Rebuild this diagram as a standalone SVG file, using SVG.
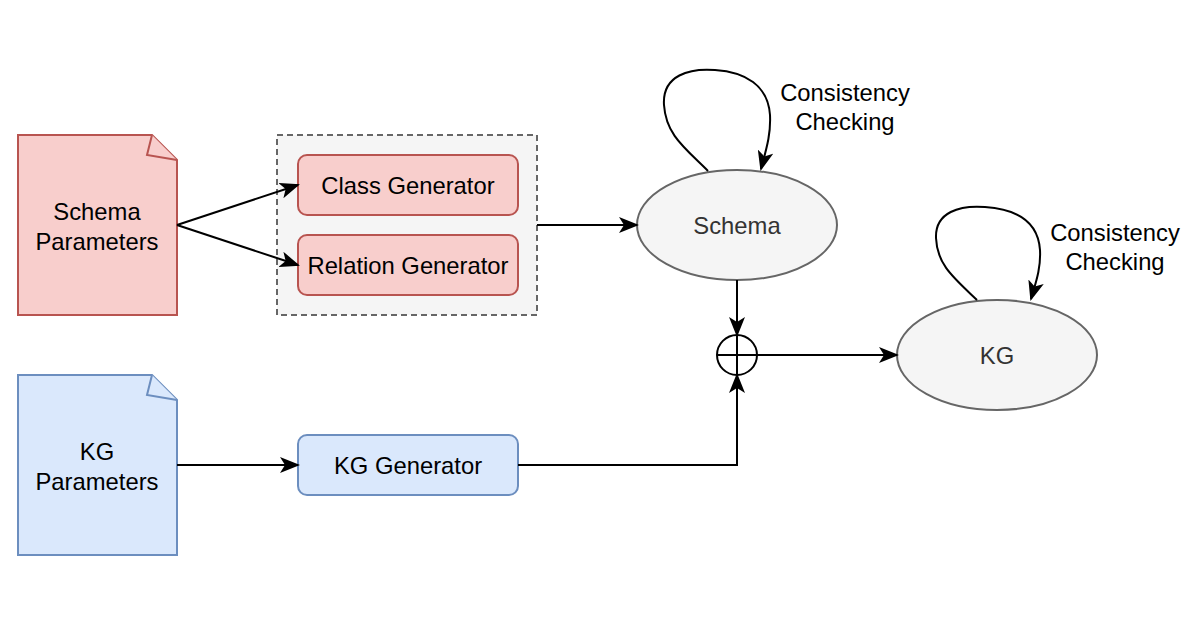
<svg xmlns="http://www.w3.org/2000/svg" width="1200" height="630" viewBox="0 0 1200 630">
<defs>
<marker id="arr" viewBox="0 0 20 16" refX="18" refY="8" markerWidth="20" markerHeight="16" markerUnits="userSpaceOnUse" orient="auto">
<path d="M0,0 L20,8 L0,16 L5,8 Z" fill="#000"/>
</marker>
<style>
text{font-family:"Liberation Sans",Arial,sans-serif;font-size:23.8px;text-anchor:middle;dominant-baseline:central;fill:#000}
.red{fill:#f8cecc;stroke:#b85450;stroke-width:2}
.blue{fill:#dae8fc;stroke:#6c8ebf;stroke-width:2}
.ell{fill:#f5f5f5;stroke:#666666;stroke-width:2}
.ell-t{fill:#333333}
.edge{fill:none;stroke:#000;stroke-width:2;marker-end:url(#arr)}
.plain{fill:none;stroke:#000;stroke-width:2}
</style>
</defs>
<rect width="1200" height="630" fill="#fff"/>

<g id="group-box">
<rect x="277" y="135" width="260" height="180" fill="#f5f5f5" stroke="#666666" stroke-width="2" stroke-dasharray="6 4"/>
</g>

<g id="schema-params">
<path class="red" d="M18,135 H152 L177,160 V315 H18 Z"/>
<path class="red" d="M152,135 L147,155 L177,160"/>
<text x="97" y="211">Schema</text>
<text x="97" y="241">Parameters</text>
</g>

<g id="kg-params">
<path class="blue" d="M18,375 H152 L177,400 V555 H18 Z"/>
<path class="blue" d="M152,375 L147,395 L177,400"/>
<text x="97" y="451">KG</text>
<text x="97" y="481">Parameters</text>
</g>

<g id="class-gen">
<rect class="red" x="298" y="155" width="220" height="60" rx="9"/>
<text x="408" y="185">Class Generator</text>
</g>

<g id="relation-gen">
<rect class="red" x="298" y="235" width="220" height="60" rx="9"/>
<text x="408" y="265">Relation Generator</text>
</g>

<g id="kg-gen">
<rect class="blue" x="298" y="435" width="220" height="60" rx="9"/>
<text x="408" y="465">KG Generator</text>
</g>

<g id="schema">
<ellipse class="ell" cx="737" cy="225" rx="100" ry="55"/>
<text class="ell-t" x="737" y="225">Schema</text>
</g>

<g id="kg">
<ellipse class="ell" cx="997" cy="355" rx="100" ry="55"/>
<text class="ell-t" x="997" y="355">KG</text>
</g>

<g id="combine">
<circle cx="737" cy="355" r="20" fill="#fff" stroke="#000" stroke-width="2"/>
<path class="plain" d="M717,355 H757 M737,335 V375"/>
</g>

<g id="labels">
<text x="845" y="92">Consistency</text>
<text x="845" y="121">Checking</text>
<text x="1115" y="232">Consistency</text>
<text x="1115" y="261">Checking</text>
</g>

<g id="connectors">
<path class="edge" d="M177,225 L298,185"/>
<path class="edge" d="M177,225 L298,265"/>
<path class="edge" d="M537,225 H637"/>
<path class="edge" d="M737,280 V335"/>
<path class="edge" d="M518,465 H737 V375"/>
<path class="edge" d="M177,465 H298"/>
<path class="edge" d="M757,355 H897"/>
<path class="edge" d="M708,171 C685,148 666,135 664,105 C662,75 690,68 715,70 C745,72 768,85 770,115 C771,135 766,150 761,169"/>
<path class="edge" d="M977,300 C954,278 937,265 936,238 C935,212 960,205 985,207 C1015,209 1038,220 1040,250 C1041,268 1036,282 1031,299"/>
</g>
</svg>
